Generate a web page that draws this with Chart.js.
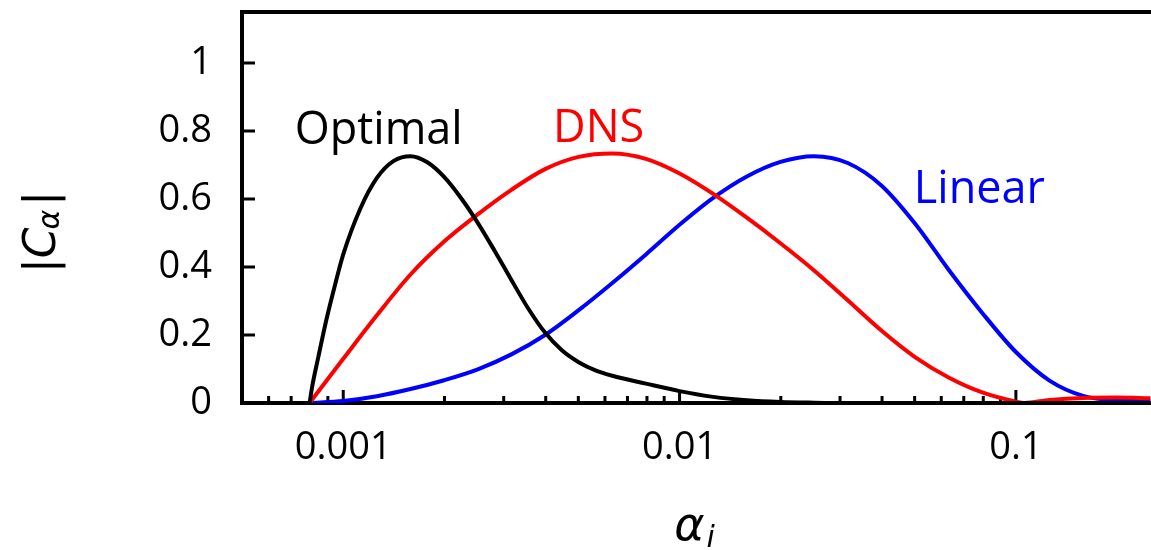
<!DOCTYPE html>
<html>
<head>
<meta charset="utf-8">
<script src="https://cdn.jsdelivr.net/npm/chart.js@4.4.1/dist/chart.umd.min.js"></script>
<style>
  html, body { margin: 0; padding: 0; background: #fff; overflow: hidden; }
  canvas { display: block; }
</style>
</head>
<body>
<canvas id="coefChart" width="1151" height="550"></canvas>
<script>
// |C_alpha| against alpha_i for the three cases
const alphaOptimal = [0.000794, 0.000809, 0.000843, 0.000891, 0.000944, 0.001, 0.001122, 0.001259, 0.001413, 0.001585, 0.001778, 0.001995, 0.002239, 0.002512, 0.002818, 0.003162, 0.003548, 0.003981, 0.004467, 0.005012, 0.005623, 0.00631, 0.007943, 0.01, 0.01259, 0.01585, 0.01995, 0.02512, 0.03162, 0.2512];
const cOptimal = [0, 0.05, 0.135, 0.245, 0.345, 0.437, 0.57, 0.662, 0.712, 0.726, 0.708, 0.665, 0.603, 0.53, 0.448, 0.362, 0.278, 0.207, 0.155, 0.12, 0.096, 0.08, 0.057, 0.035, 0.018, 0.008, 0.003, 0.001, 0, 0];

const alphaDns = [0.000794, 0.001, 0.001259, 0.001585, 0.001995, 0.002512, 0.003162, 0.003981, 0.005012, 0.00631, 0.007943, 0.01, 0.01259, 0.01585, 0.01995, 0.02512, 0.03162, 0.03981, 0.05012, 0.0631, 0.07943, 0.1, 0.1059, 0.1259, 0.1585, 0.1995, 0.2512];
const cDns = [0, 0.13, 0.258, 0.378, 0.475, 0.555, 0.627, 0.688, 0.724, 0.734, 0.718, 0.675, 0.615, 0.545, 0.47, 0.39, 0.302, 0.213, 0.135, 0.075, 0.031, 0.004, 0, 0.009, 0.015, 0.016, 0.014];

const alphaLinear = [0.000794, 0.001, 0.001259, 0.001585, 0.001995, 0.002512, 0.003162, 0.003981, 0.005012, 0.00631, 0.007943, 0.01, 0.01259, 0.01585, 0.01995, 0.02512, 0.03162, 0.03981, 0.05012, 0.0631, 0.07943, 0.1, 0.1259, 0.1585, 0.1995, 0.2512];
const cLinear = [0, 0.006, 0.02, 0.041, 0.067, 0.099, 0.143, 0.2, 0.273, 0.353, 0.437, 0.524, 0.603, 0.666, 0.709, 0.726, 0.706, 0.64, 0.528, 0.392, 0.265, 0.15, 0.066, 0.021, 0.008, 0.006];

const xMajorTicks = [0.001, 0.01, 0.1];
const xTickLabels = ['0.001', '0.01', '0.1'];
const xMinorTicks = [0.0006, 0.0007, 0.0008, 0.0009, 0.002, 0.003, 0.004, 0.005, 0.006, 0.007, 0.008, 0.009,
                     0.02, 0.03, 0.04, 0.05, 0.06, 0.07, 0.08, 0.09, 0.2];
const yTicks = [0, 0.2, 0.4, 0.6, 0.8, 1];
const yTickLabels = ['0', '0.2', '0.4', '0.6', '0.8', '1'];

// curve names written next to each curve (x, y in data units)
const curveNames = [
  { text: 'Optimal', x: 0.001275, y: 0.762, color: '#000000' },
  { text: 'DNS', x: 0.005744, y: 0.769, color: '#ff0000' },
  { text: 'Linear', x: 0.0779, y: 0.588, color: '#0000ff' }
];

const FONT = '"Open Sans", sans-serif';
const MATH = '"DejaVu Sans", sans-serif';

function toPoints(xs, ys) {
  return xs.map((x, i) => ({ x: x, y: ys[i] }));
}

// inward tick marks, curve names and the axis titles
const decorations = {
  id: 'decorations',
  beforeDatasetsDraw(chart) {
    const { ctx, chartArea, scales } = chart;
    ctx.save();
    ctx.strokeStyle = '#000';
    ctx.lineWidth = 3;
    ctx.beginPath();
    yTicks.forEach(v => {
      const py = scales.y.getPixelForValue(v);
      ctx.moveTo(chartArea.left, py);
      ctx.lineTo(chartArea.left + 13, py);
    });
    xMajorTicks.concat(xMinorTicks).forEach(v => {
      const px = scales.x.getPixelForValue(v);
      if (px < chartArea.left || px > chartArea.right) return;
      const len = xMajorTicks.includes(v) ? 13 : 7;
      ctx.moveTo(px, chartArea.bottom);
      ctx.lineTo(px, chartArea.bottom - len);
    });
    ctx.stroke();
    ctx.restore();
  },
  afterDraw(chart) {
    const { ctx, chartArea, scales } = chart;
    ctx.save();
    ctx.textBaseline = 'alphabetic';

    ctx.font = '45px ' + FONT;
    ctx.textAlign = 'center';
    curveNames.forEach(n => {
      ctx.fillStyle = n.color;
      ctx.fillText(n.text, scales.x.getPixelForValue(n.x), scales.y.getPixelForValue(n.y));
    });

    ctx.fillStyle = '#000';
    ctx.textAlign = 'left';

    // x title: alpha_i
    const big = 'italic 46px ' + MATH;
    const sub = 'italic 30px ' + MATH;
    ctx.font = big;
    const wA = ctx.measureText('α').width;
    ctx.font = sub;
    const wI = ctx.measureText('i').width;
    const x0 = (chartArea.left + chartArea.right) / 2 - (wA + wI) / 2 - 3;
    ctx.font = big;
    ctx.fillText('α', x0, 540);
    ctx.font = sub;
    ctx.fillText('i', x0 + wA + 2, 547);

    // y title: |C_alpha|, rotated
    const bar = '44px ' + MATH;
    ctx.font = bar;
    const wBar = ctx.measureText('|').width;
    ctx.font = 'italic 44px ' + MATH;
    const wC = ctx.measureText('C').width;
    ctx.font = sub;
    const wAl = ctx.measureText('α').width;
    const total = wBar * 2 + wC + wAl + 2;
    ctx.translate(55, 232);
    ctx.rotate(-Math.PI / 2);
    let p = -total / 2;
    ctx.font = bar;
    ctx.fillText('|', p, 0); p += wBar;
    ctx.font = 'italic 44px ' + MATH;
    ctx.fillText('C', p, 0); p += wC - 2;
    ctx.font = sub;
    ctx.fillText('α', p, 4); p += wAl + 4;
    ctx.font = bar;
    ctx.fillText('|', p, 0);
    ctx.restore();
  }
};

const line = (label, xs, ys, color) => ({
  label: label,
  data: toPoints(xs, ys),
  borderColor: color,
  borderWidth: 4,
  pointRadius: 0,
  fill: false,
  cubicInterpolationMode: 'monotone'
});

const ctx = document.getElementById('coefChart').getContext('2d');
new Chart(ctx, {
  type: 'line',
  data: {
    datasets: [
      line('Optimal', alphaOptimal, cOptimal, '#000000'),
      line('DNS', alphaDns, cDns, '#ff0000'),
      line('Linear', alphaLinear, cLinear, '#0000ff')
    ]
  },
  options: {
    responsive: false,
    animation: false,
    layout: { padding: { top: 12, left: 0, right: 0, bottom: 0 } },
    plugins: { legend: { display: false }, tooltip: { enabled: false } },
    scales: {
      x: {
        type: 'logarithmic',
        position: 'bottom',
        min: 0.0005,
        max: 0.2522,
        grid: { display: false, drawTicks: false },
        border: { display: true, color: '#000', width: 4 },
        afterBuildTicks: s => {
          s.ticks = xMinorTicks.concat(xMajorTicks).sort((a, b) => a - b).map(v => ({ value: v }));
        },
        ticks: {
          autoSkip: false,
          maxRotation: 0,
          padding: 22,
          color: '#000',
          font: { family: FONT, size: 38 },
          callback: v => {
            const i = xMajorTicks.indexOf(v);
            return i >= 0 ? xTickLabels[i] : '';
          }
        },
        afterFit: s => { s.height = 147; s.paddingLeft = 0; s.paddingRight = 0; }
      },
      top: {
        type: 'linear',
        axis: 'x',
        position: 'top',
        grid: { display: false, drawTicks: false },
        ticks: { display: false },
        border: { display: true, color: '#000', width: 4 },
        afterFit: s => { s.height = 0; s.paddingLeft = 0; s.paddingRight = 0; }
      },
      y: {
        min: 0,
        max: 1.15,
        grid: { display: false, drawTicks: false },
        border: { display: true, color: '#000', width: 4 },
        afterBuildTicks: s => { s.ticks = yTicks.map(v => ({ value: v })); },
        ticks: {
          padding: 30,
          color: '#000',
          font: { family: FONT, size: 38 },
          callback: v => {
            const i = yTicks.indexOf(v);
            return i >= 0 ? yTickLabels[i] : '';
          }
        },
        afterFit: s => { s.width = 242; s.paddingTop = 0; s.paddingBottom = 0; }
      }
    }
  },
  plugins: [decorations]
});
</script>
</body>
</html>
